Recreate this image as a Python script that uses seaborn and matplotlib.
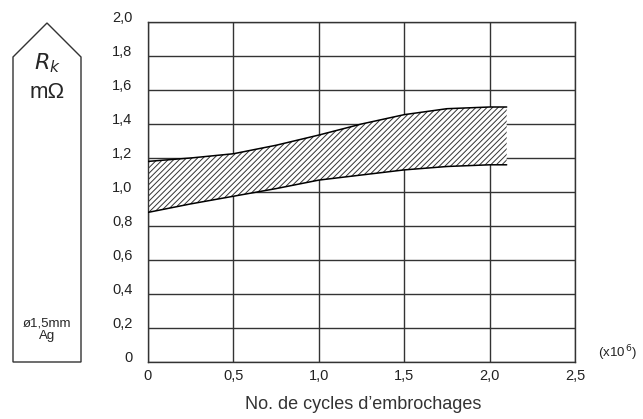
import matplotlib
matplotlib.use("Agg")
import matplotlib.pyplot as plt
import seaborn as sns
import pandas as pd
from matplotlib.patches import Polygon

# data (cycles in millions, resistance in mOhm)
cycles = [0.0, 0.25, 0.5, 0.75, 1.0, 1.25, 1.5, 1.75, 2.0, 2.1]
upper = [1.18, 1.20, 1.225, 1.275, 1.335, 1.40, 1.455, 1.49, 1.50, 1.50]
lower = [0.88, 0.93, 0.975, 1.02, 1.07, 1.10, 1.13, 1.15, 1.16, 1.16]

x_ticks = [0, 0.5, 1.0, 1.5, 2.0, 2.5]
x_labels = ["0", "0,5", "1,0", "1,5", "2,0", "2,5"]
y_ticks = [0, 0.2, 0.4, 0.6, 0.8, 1.0, 1.2, 1.4, 1.6, 1.8, 2.0]
y_labels = ["0", "0,2", "0,4", "0,6", "0,8", "1,0", "1,2", "1,4", "1,6", "1,8", "2,0"]

df = pd.DataFrame({"cycles": cycles, "upper": upper, "lower": lower})

sns.set_style("white")
plt.rcParams["font.family"] = ["Liberation Sans", "DejaVu Sans"]
plt.rcParams["hatch.linewidth"] = 0.7

W, H = 643, 419
fig = plt.figure(figsize=(W / 100, H / 100), dpi=100)
ax = fig.add_axes([148 / W, 1 - 362 / H, (575 - 148) / W, (362 - 22) / H])

# hatched band between the two limit curves
ax.fill_between(df["cycles"], df["lower"], df["upper"], facecolor="white",
                edgecolor="#333333", hatch="//////", linewidth=0, zorder=2)
sns.lineplot(data=df, x="cycles", y="upper", color="black", linewidth=1.1, ax=ax, zorder=3)
sns.lineplot(data=df, x="cycles", y="lower", color="black", linewidth=1.1, ax=ax, zorder=3)

ax.set_xlim(0, 2.5)
ax.set_ylim(0, 2.0)
ax.set_xticks(x_ticks)
ax.set_xticklabels(x_labels, fontsize=10.5, color="#222222")
ax.set_yticks(y_ticks)
ax.set_yticklabels(y_labels, fontsize=10.5, color="#222222")
for t in ax.get_yticklabels():
    t.set_verticalalignment("baseline")
ax.set_yticks([0.1, 0.3, 0.5, 0.7, 0.9, 1.1, 1.3, 1.5, 1.7, 1.9], minor=True)
# sizes in points (1 pt = 1.39 px at 100 dpi)
ax.tick_params(axis="y", which="major", length=5.8, width=1, color="#333333", pad=5.5)
ax.tick_params(axis="y", which="minor", length=2.3, width=1, color="#333333")
ax.tick_params(axis="x", which="major", length=0, pad=5)
ax.grid(True, which="major", color="#333333", linewidth=1)
ax.set_axisbelow(True)
for s in ["top", "bottom", "left", "right"]:
    ax.spines[s].set_color("#333333")
    ax.spines[s].set_linewidth(1)
ax.set_xlabel("")
ax.set_ylabel("")

fig.text(363 / W, 1 - 404 / H, "No. de cycles d\u2019embrochages", ha="center", va="center",
         fontsize=13, color="#333333")
fig.text(598 / W, 1 - 353 / H, "(x10$^{\\,6}$)", ha="left", va="center", fontsize=9.5,
         color="#222222")

# arrow-shaped label box on the left
pts = [(13, 362), (13, 57), (47, 23), (81, 57), (81, 362)]
poly = Polygon([(px / W, 1 - py / H) for px, py in pts], closed=True,
               facecolor="white", edgecolor="#333333", linewidth=1,
               transform=fig.transFigure)
fig.add_artist(poly)
fig.text(47 / W, 1 - 63 / H, "$R_{\\mathit{k}}$", ha="center", va="center", fontsize=16)
fig.text(47 / W, 1 - 92 / H, "m\u03a9", ha="center", va="center", fontsize=16)
fig.text(47 / W, 1 - 323 / H, "\u00f81,5mm", ha="center", va="center", fontsize=9.5)
fig.text(47 / W, 1 - 336 / H, "Ag", ha="center", va="center", fontsize=9.5)

fig.savefig("out.png", dpi=100)
